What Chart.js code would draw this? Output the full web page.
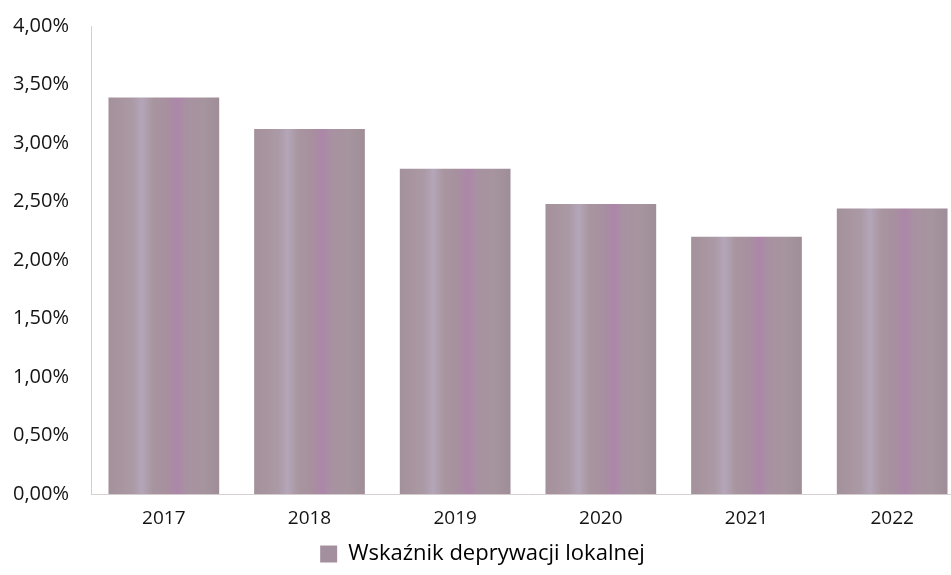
<!DOCTYPE html>
<html>
<head>
<meta charset="utf-8">
<script src="https://cdn.jsdelivr.net/npm/chart.js@4"></script>
<style>
  html, body { margin: 0; padding: 0; background: #fff; overflow: hidden; }
  #wrap { width: 965px; height: 575px; }
</style>
</head>
<body>
<div id="wrap"><canvas id="depChart" width="965" height="575"></canvas></div>
<script>
const years = ["2017", "2018", "2019", "2020", "2021", "2022"];
const indexValues = [3.39, 3.12, 2.78, 2.48, 2.20, 2.44];
const seriesName = "Wskaźnik deprywacji lokalnej";
const yTicks = [0, 0.5, 1, 1.5, 2, 2.5, 3, 3.5, 4];

const baseColor = "#a6939f";
const barShare = 0.76;

// streaky mauve fill, one gradient per bar
function barFill(ctx) {
  const chart = ctx.chart;
  const xs = chart.scales.x;
  if (!chart.chartArea || !xs || ctx.dataIndex === undefined) return baseColor;
  const cx = xs.getPixelForValue(ctx.dataIndex);
  const w = (xs.width / years.length) * barShare;
  const g = chart.ctx.createLinearGradient(cx - w / 2, 0, cx + w / 2, 0);
  g.addColorStop(0, "#a3919c");
  g.addColorStop(0.12, "#a8959f");
  g.addColorStop(0.22, "#ab9aa6");
  g.addColorStop(0.3, "#b4a6b9");
  g.addColorStop(0.4, "#a8959f");
  g.addColorStop(0.52, "#a7909f");
  g.addColorStop(0.62, "#ad86a9");
  g.addColorStop(0.7, "#a892a2");
  g.addColorStop(0.85, "#a6949e");
  g.addColorStop(1, "#9f8d98");
  return g;
}

const fmt = v => v.toFixed(2).replace(".", ",") + "%";

new Chart(document.getElementById("depChart"), {
  type: "bar",
  data: {
    labels: years,
    datasets: [{
      label: seriesName,
      data: indexValues,
      backgroundColor: barFill,
      borderWidth: 0,
      barPercentage: barShare,
      categoryPercentage: 1
    }]
  },
  options: {
    responsive: false,
    animation: false,
    layout: { padding: { top: 26, left: 0, right: 0, bottom: 0 } },
    scales: {
      x: {
        grid: { display: false },
        border: { display: true, color: "#d6d0d2", width: 1 },
        ticks: { color: "#141414", font: { family: "Open Sans", size: 19 }, padding: 5 }
      },
      y: {
        min: 0,
        max: 4,
        afterBuildTicks: s => { s.ticks = yTicks.map(v => ({ value: v })); },
        afterFit: s => { s.width = 91; },
        grid: { display: false },
        border: { display: true, color: "#ecc4cf", width: 1 },
        ticks: {
          color: "#141414",
          font: { family: "Open Sans", size: 20 },
          padding: 14,
          callback: v => fmt(v)
        }
      }
    },
    plugins: {
      legend: {
        position: "bottom",
        labels: {
          color: "#141414",
          font: { family: "Open Sans", size: 22 },
          boxWidth: 17,
          boxHeight: 17,
          padding: 8,
          generateLabels: () => [{
            text: seriesName,
            fillStyle: "#a48f9f",
            strokeStyle: "#a48f9f",
            lineWidth: 0,
            datasetIndex: 0
          }]
        }
      },
      tooltip: { enabled: false }
    }
  }
});
</script>
</body>
</html>
